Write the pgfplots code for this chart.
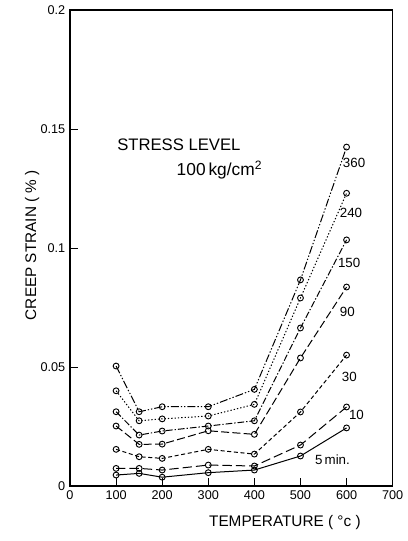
\documentclass[border=0pt]{standalone}
\usepackage{fontspec}
\setmainfont{Liberation Sans}
\usepackage{pgfplots}
\pgfplotsset{compat=1.18}
\begin{document}
\begin{tikzpicture}
\begin{axis}[
  name=ax,
  scale only axis, width=242pt, height=357pt,
  xmin=0, xmax=700, ymin=0, ymax=0.2,
  xtick={0,100,...,700},
  ytick={0,0.05,0.1,0.15,0.2},
  yticklabels={0,0.05,0.1,0.15,0.2},
  /pgf/number format/assume math mode=true,
  tick label style={font=\fontsize{9.5}{11}\selectfont},
  xtick pos=bottom, ytick pos=left,
  tick align=inside,
  major tick length=6pt,
  axis line style={line width=0.8pt},
  every tick/.style={black, line width=0.7pt},
  xlabel={TEMPERATURE ( \textdegree c )},
  ylabel={CREEP STRAIN ( \% )},
  xlabel style={at={(axis description cs:0.666,-0.0777)}, anchor=center, font=\fontsize{11.5}{13}\selectfont},
  ylabel style={at={(axis description cs:-0.1176,0.506)}, anchor=center, font=\fontsize{11.5}{13}\selectfont},
  every axis plot/.append style={black, line width=0.75pt, mark=o, mark size=2.2pt, mark options={solid, line width=0.7pt}},
]
% 5 min
\addplot[solid] coordinates {(100,0.0046)(150,0.0053)(200,0.0037)(300,0.0056)(400,0.0067)(500,0.0126)(600,0.0244)};
% 10
\addplot[dash pattern=on 7pt off 3pt] coordinates {(100,0.0074)(150,0.0074)(200,0.0067)(300,0.0088)(400,0.0084)(500,0.0172)(600,0.0332)};
% 30
\addplot[dash pattern=on 3pt off 2pt] coordinates {(100,0.0154)(150,0.0123)(200,0.0116)(300,0.0154)(400,0.0134)(500,0.0311)(600,0.055)};
% 90
\addplot[dash pattern=on 6pt off 2.5pt] coordinates {(100,0.0252)(150,0.0175)(200,0.0176)(300,0.0232)(400,0.0217)(500,0.0538)(600,0.0836)};
% 150
\addplot[dash pattern=on 5pt off 1.5pt on 1pt off 1.5pt] coordinates {(100,0.0312)(150,0.0214)(200,0.0231)(300,0.0252)(400,0.0274)(500,0.0664)(600,0.1034)};
% 240
\addplot[dash pattern=on 1pt off 1.5pt] coordinates {(100,0.040)(150,0.0274)(200,0.0282)(300,0.0294)(400,0.0343)(500,0.079)(600,0.123)};
% 360
\addplot[dash pattern=on 6pt off 1.5pt on 1pt off 1.5pt on 1pt off 1.5pt] coordinates {(100,0.0504)(150,0.0312)(200,0.0333)(300,0.0333)(400,0.0406)(500,0.0866)(600,0.1424)};

\node[anchor=west, font=\fontsize{10}{12}\selectfont, inner sep=0pt] at (axis cs:591.6,0.1357) {360};
\node[anchor=west, font=\fontsize{10}{12}\selectfont, inner sep=0pt] at (axis cs:585,0.1147) {240};
\node[anchor=west, font=\fontsize{10}{12}\selectfont, inner sep=0pt] at (axis cs:581,0.0937) {150};
\node[anchor=west, font=\fontsize{10}{12}\selectfont, inner sep=0pt] at (axis cs:585,0.0731) {90};
\node[anchor=west, font=\fontsize{10}{12}\selectfont, inner sep=0pt] at (axis cs:589.5,0.0458) {30};
\node[anchor=west, font=\fontsize{10}{12}\selectfont, inner sep=0pt] at (axis cs:604.7,0.0298) {10};
\node[anchor=west, font=\fontsize{10}{12}\selectfont, inner sep=0pt] at (axis cs:531,0.0109) {5\,min.};
\node[anchor=west, font=\fontsize{12.5}{14}\selectfont, inner sep=0pt] at (axis cs:102,0.1433) {STRESS LEVEL};
\node[anchor=west, font=\fontsize{13}{15}\selectfont, inner sep=0pt] at (axis cs:231,0.1328) {100\,kg/cm\textsuperscript{2}};
\end{axis}
\path ([shift={(-52.5pt,-41.25pt)}]ax.south west) rectangle ([shift={(6pt,7.5pt)}]ax.north east);
\end{tikzpicture}
\end{document}
